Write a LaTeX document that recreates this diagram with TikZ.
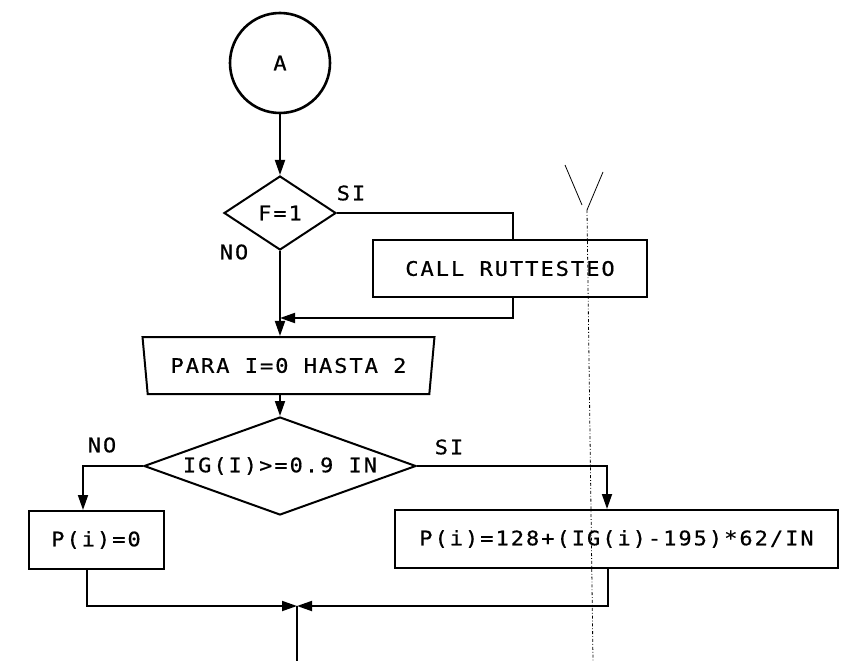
\documentclass[tikz,border=0pt]{standalone}
\usepackage{fontspec}
\setmonofont{DejaVu Sans Mono}[FakeStretch=1.1,LetterSpace=10,FakeBold=0.6]
\usetikzlibrary{arrows.meta,shapes.geometric}

\begin{document}
\begin{tikzpicture}[x=1pt,y=-1pt,
  every node/.style={font=\ttfamily\fontsize{20}{22}\selectfont,inner sep=0pt},
  box/.style={draw,line width=2pt,minimum height=58pt},
  dec/.style={draw,diamond,line width=2pt},
  lbl/.style={anchor=center},
  line width=1.8pt,
  arr/.style={-{Triangle[length=15pt,width=10pt]}}]
\useasboundingbox (0,0) rectangle (854,661);
\node[draw,circle,line width=2.6pt,minimum size=100pt] (a) at (280,63) {A};
\node[dec,aspect=1.5,minimum width=112pt,minimum height=74pt] (f) at (280,213) {F=1};
\node[box,minimum width=274pt,minimum height=57pt] (call) at (510,268.5) {CALL RUTTESTEO};
\node[draw,trapezium,shape border rotate=180,trapezium stretches=true,trapezium angle=74,
  line width=2pt,minimum width=293pt,minimum height=57pt] (para) at (288.5,365.5) {PARA I=0 HASTA 2};
\node[dec,aspect=2.78,minimum width=272pt,minimum height=98pt] (ig) at (280,466) {IG(I)>=0.9 IN};
\node[box,minimum width=135pt] (p0) at (96,540) {P(i)=0};
\node[box,minimum width=443pt] (pc) at (616.5,539) {P(i)=128+(IG(i)-195)*62/IN};
% etiquetas
\node[lbl] (si1) at (351,193) {SI};
\node[lbl] (no1) at (234,252) {NO};
\node[lbl] (no2) at (102,445) {NO};
\node[lbl] (si2) at (449,447) {SI};
% puntos de union
\coordinate (j1) at (280,318);
\coordinate (j2) at (297,606);
\coordinate (out) at (297,661);
% conectores
\draw[arr] (a) -- (f);
\draw (f.east) -| ([xshift=3pt]call.north);
\draw[arr] ([xshift=3pt]call.south) |- (j1);
\draw[arr] (f.south) -- (f.south |- para.north);
\draw[arr] (f.south |- para.south) -- (ig.north);
\draw[arr] (ig.west) -| ([xshift=-13pt]p0.north);
\draw[arr] (ig.east) -| ([xshift=-9.5pt]pc.north);
\draw[arr] ([xshift=-9pt]p0.south) |- (j2);
\draw[arr] ([xshift=-8.5pt]pc.south) |- (j2);
\draw (j2) -- (out);
% linea de pliegue
\draw[line width=0.8pt,dash dot] (587,210) -- (593,661);
\draw[line width=0.8pt] (565,165) -- (582,205) (603,172) -- (587,210);
\end{tikzpicture}
\end{document}
